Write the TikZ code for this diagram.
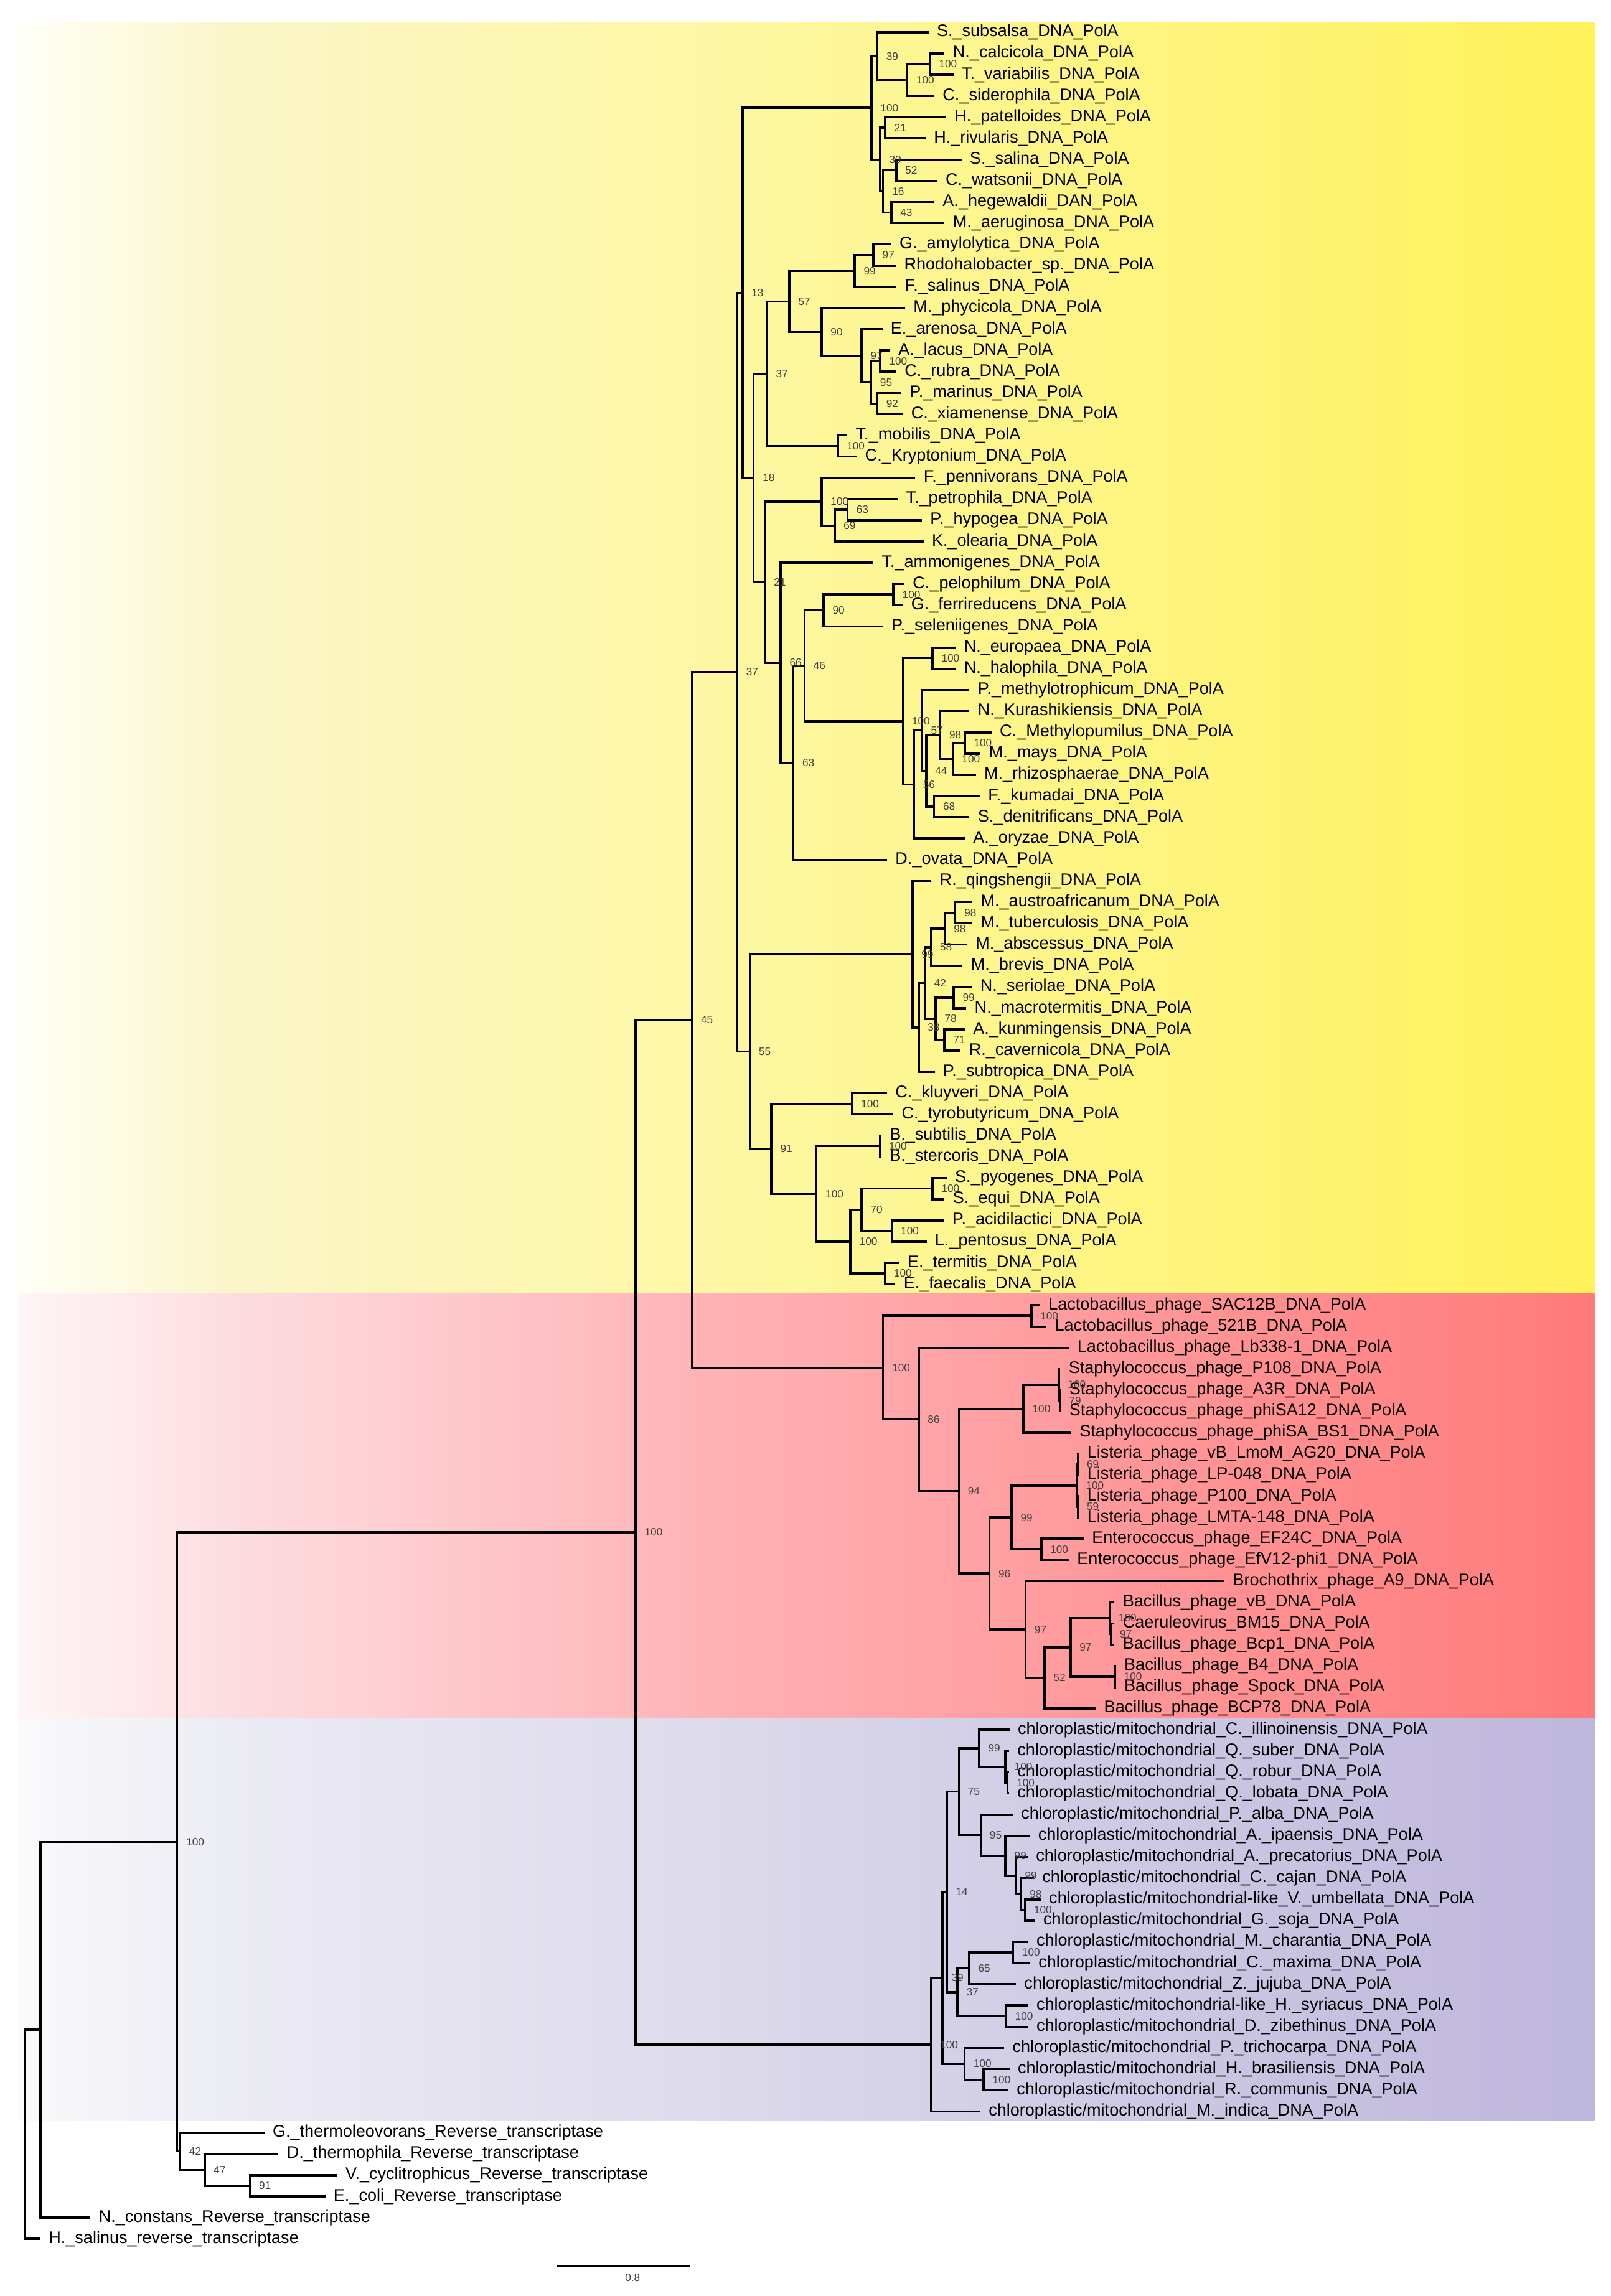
\documentclass[tikz,border=0pt]{standalone}
\usepackage{fontspec}
\setmainfont{Liberation Sans}
\usetikzlibrary{calc}

\definecolor{yelA}{HTML}{FFFFF7}
\definecolor{yelB}{HTML}{FBF6C8}
\definecolor{yelC}{HTML}{FDF7A4}
\definecolor{yelD}{HTML}{FFF25A}
\definecolor{redA}{HTML}{FFF6F7}
\definecolor{redB}{HTML}{FDDCE0}
\definecolor{redC}{HTML}{FFB2B6}
\definecolor{redD}{HTML}{FF7A7A}
\definecolor{bluA}{HTML}{FAFAFC}
\definecolor{bluB}{HTML}{EBEBF4}
\definecolor{bluC}{HTML}{DDDAEB}
\definecolor{bluD}{HTML}{BEB6DC}

\pgfdeclarehorizontalshading{yelband}{100bp}{color(0bp)=(yelA); color(25bp)=(yelA); color(32bp)=(yelB); color(47bp)=(yelC); color(75bp)=(yelD); color(100bp)=(yelD)}
\pgfdeclarehorizontalshading{redband}{100bp}{color(0bp)=(redA); color(25bp)=(redA); color(32bp)=(redB); color(47bp)=(redC); color(75bp)=(redD); color(100bp)=(redD)}
\pgfdeclarehorizontalshading{bluband}{100bp}{color(0bp)=(bluA); color(25bp)=(bluA); color(32bp)=(bluB); color(47bp)=(bluC); color(75bp)=(bluD); color(100bp)=(bluD)}

\newcommand\pola{\_DNA\_PolA}
\newcommand\revtr{\_Reverse\_transcriptase}
\newcommand\cpm{chloroplastic/mitochondrial}
% name, x, upper child, lower child, support
\newcommand\clade[5]{%
  \path ($(#3)!.5!(#4)$) coordinate (m#1);
  \coordinate (#1) at (m#1 -| #2,0);
  \draw[branch] (#3) -| (#1) |- (#4);
  \node[boot] (s#1) at (#1) {#5};
}

\begin{document}
\begin{tikzpicture}[x=1pt,y=-1pt,
  branch/.style={line width=1.5pt},
  leaf/.style={anchor=west,inner xsep=5.5pt,inner ysep=1pt,font=\fontsize{11.5}{12}\selectfont},
  boot/.style={anchor=west,inner sep=0pt,xshift=6pt,font=\fontsize{7.3}{8}\selectfont,text=black!75}]

\useasboundingbox (0,0) rectangle (1100,1568);

% clade bands
\shade[shading=yelband] (12.6,14.9) rectangle (1088.8,883.5);
\shade[shading=redband] (12.6,883.5) rectangle (1088.8,1173.5);
\shade[shading=bluband] (12.6,1173.5) rectangle (1088.8,1448.4);

% leaves, one per row
\foreach \x/\t [count=\i] in {
  634/S.\_subsalsa\pola, 645/N.\_calcicola\pola, 651/T.\_variabilis\pola,
  638/C.\_siderophila\pola, 646/H.\_patelloides\pola, 632/H.\_rivularis\pola,
  656.5/S.\_salina\pola, 640/C.\_watsonii\pola, 638/A.\_hegewaldii\_DAN\_PolA,
  645/M.\_aeruginosa\pola, 608.5/G.\_amylolytica\pola, 611.7/Rhodohalobacter\_sp.\pola,
  612.2/F.\_salinus\pola, 618/M.\_phycicola\pola, 602.5/E.\_arenosa\pola,
  607.8/A.\_lacus\pola, 612/C.\_rubra\pola, 615.4/P.\_marinus\pola,
  616.5/C.\_xiamenense\pola, 578.6/T.\_mobilis\pola, 585/C.\_Kryptonium\pola,
  625/F.\_pennivorans\pola, 613/T.\_petrophila\pola, 629.5/P.\_hypogea\pola,
  630.6/K.\_olearia\pola, 596.4/T.\_ammonigenes\pola, 617.6/C.\_pelophilum\pola,
  616.5/G.\_ferrireducens\pola, 603/P.\_seleniigenes\pola, 652.6/N.\_europaea\pola,
  652.6/N.\_halophila\pola, 662/P.\_methylotrophicum\pola, 662/N.\_Kurashikiensis\pola,
  677/C.\_Methylopumilus\pola, 669.6/M.\_mays\pola, 666.3/M.\_rhizosphaerae\pola,
  669/F.\_kumadai\pola, 662/S.\_denitrificans\pola, 658.8/A.\_oryzae\pola,
  605.7/D.\_ovata\pola, 636/R.\_qingshengii\pola, 664/M.\_austroafricanum\pola,
  664/M.\_tuberculosis\pola, 660.5/M.\_abscessus\pola, 657.3/M.\_brevis\pola,
  663.7/N.\_seriolae\pola, 659.8/N.\_macrotermitis\pola, 658.8/A.\_kunmingensis\pola,
  656/R.\_cavernicola\pola, 638.2/P.\_subtropica\pola, 605.7/C.\_kluyveri\pola,
  610/C.\_tyrobutyricum\pola, 601.8/B.\_subtilis\pola, 601.8/B.\_stercoris\pola,
  646.4/S.\_pyogenes\pola, 645/S.\_equi\pola, 644.6/P.\_acidilactici\pola,
  632.7/L.\_pentosus\pola, 614/E.\_termitis\pola, 611.4/E.\_faecalis\pola,
  710.2/Lactobacillus\_phage\_SAC12B\pola, 714.6/Lactobacillus\_phage\_521B\pola,
  730/Lactobacillus\_phage\_Lb338-1\pola, 724/Staphylococcus\_phage\_P108\pola,
  724.5/Staphylococcus\_phage\_A3R\pola, 724.5/Staphylococcus\_phage\_phiSA12\pola,
  731.5/Staphylococcus\_phage\_phiSA\_BS1\pola, 736.8/Listeria\_phage\_vB\_LmoM\_AG20\pola,
  736.8/Listeria\_phage\_LP-048\pola, 736.8/Listeria\_phage\_P100\pola,
  736.8/Listeria\_phage\_LMTA-148\pola, 740/Enterococcus\_phage\_EF24C\pola,
  729.8/Enterococcus\_phage\_EfV12-phi1\pola, 836.1/Brochothrix\_phage\_A9\pola,
  761/Bacillus\_phage\_vB\pola, 761/Caeruleovirus\_BM15\pola, 761/Bacillus\_phage\_Bcp1\pola,
  762/Bacillus\_phage\_B4\pola, 762/Bacillus\_phage\_Spock\pola, 748.2/Bacillus\_phage\_BCP78\pola,
  689.3/\cpm\_C.\_illinoinensis\pola, 689/\cpm\_Q.\_suber\pola, 689/\cpm\_Q.\_robur\pola,
  689/\cpm\_Q.\_lobata\pola, 691.5/\cpm\_P.\_alba\pola, 703.2/\cpm\_A.\_ipaensis\pola,
  701.7/\cpm\_A.\_precatorius\pola, 706/\cpm\_C.\_cajan\pola,
  710.6/\cpm-like\_V.\_umbellata\pola, 706.7/\cpm\_G.\_soja\pola,
  702/\cpm\_M.\_charantia\pola, 703.4/\cpm\_C.\_maxima\pola, 693.7/\cpm\_Z.\_jujuba\pola,
  702/\cpm-like\_H.\_syriacus\pola, 702/\cpm\_D.\_zibethinus\pola,
  685.7/\cpm\_P.\_trichocarpa\pola, 689.3/\cpm\_H.\_brasiliensis\pola,
  688.5/\cpm\_R.\_communis\pola, 669.4/\cpm\_M.\_indica\pola,
  180.5/G.\_thermoleovorans\revtr, 190.2/D.\_thermophila\revtr,
  230.2/V.\_cyclitrophicus\revtr, 222.1/E.\_coli\revtr,
  61.8/N.\_constans\revtr, 27.6/H.\_salinus\_reverse\_transcriptase}
  \node[leaf] (l\i) at (\x,{22+(\i-1)*14.49}) {\t};

% cyanobacteria
\clade{cNT}{635}{l2}{l3}{100}
\clade{cNTC}{619.5}{cNT}{l4}{100}
\clade{c39}{599}{l1}{cNTC}{39}
\clade{cH}{604.5}{l5}{l6}{21}
\clade{cSC}{612}{l7}{l8}{52}
\clade{cAM}{608.6}{l9}{l10}{43}
\clade{c16}{603}{cSC}{cAM}{16}
\clade{c30}{601}{cH}{c16}{30}
\clade{cCy}{595}{c39}{c30}{100}
% bacteroidetes and others
\clade{cGR}{596.4}{l11}{l12}{97}
\clade{c99a}{583.6}{cGR}{l13}{99}
\clade{cAC}{601}{l16}{l17}{100}
\clade{cPC}{599}{l18}{l19}{92}
\clade{c95}{594.8}{cAC}{cPC}{95}
\clade{c97a}{588.3}{l15}{c95}{97}
\clade{c90a}{561}{l14}{c97a}{90}
\clade{c57}{539}{c99a}{c90a}{57}
\clade{cTC}{572}{l20}{l21}{100}
\clade{c37a}{523.7}{c57}{cTC}{37}
\clade{cTP}{578.6}{l23}{l24}{63}
\clade{c69}{569.9}{cTP}{l25}{69}
\clade{c100c}{561}{l22}{c69}{100}
\clade{cCG}{610}{l27}{l28}{100}
\clade{c90b}{562.3}{cCG}{l29}{90}
\clade{cNN}{636.7}{l30}{l31}{100}
\clade{cMM}{658.8}{l34}{l35}{100}
\clade{c100e}{650.7}{cMM}{l36}{100}
\clade{c98a}{642}{l33}{c100e}{98}
\clade{cFS}{637.8}{l37}{l38}{68}
\clade{c44}{632.4}{c98a}{cFS}{44}
\clade{c57b}{629.5}{l32}{c44}{57}
\clade{c56}{624.1}{c57b}{l39}{56}
\clade{c100d}{616.5}{cNN}{c56}{100}
\clade{c46}{549.3}{c90b}{c100d}{46}
\clade{c63}{541.7}{c46}{l40}{63}
\clade{c66}{533}{l26}{c63}{66}
\clade{c21}{522.3}{c100c}{c66}{21}
\clade{c18}{514.6}{c37a}{c21}{18}
\clade{c13}{507}{cCy}{c18}{13}
% actinobacteria and firmicutes
\clade{cMA}{652.3}{l42}{l43}{98}
\clade{c98b}{645.1}{cMA}{l44}{98}
\clade{c58}{635.6}{c98b}{l45}{58}
\clade{cNS}{651.2}{l46}{l47}{99}
\clade{cAR}{644.7}{l48}{l49}{71}
\clade{c78}{638.8}{cNS}{cAR}{78}
\clade{c42}{631.7}{c58}{c78}{42}
\clade{c38}{627.3}{c42}{l50}{38}
\clade{c99b}{623}{l41}{c38}{99}
\clade{cCK}{581.8}{l51}{l52}{100}
\clade{cBB}{600.8}{l53}{l54}{100}
\clade{cSS}{636.7}{l55}{l56}{100}
\clade{cPL}{609}{l57}{l58}{100}
\clade{c70}{588.3}{cSS}{cPL}{70}
\clade{cEE}{604.2}{l59}{l60}{100}
\clade{c100h}{580.7}{c70}{cEE}{100}
\clade{c100g}{557.5}{cBB}{c100h}{100}
\clade{c91}{526.6}{cCK}{c100g}{91}
\clade{c55}{512}{c99b}{c91}{55}
\clade{c37b}{503.4}{c13}{c55}{37}
% phages
\clade{cLL}{704.2}{l61}{l62}{100}
\clade{cSt2}{723.8}{l65}{l66}{79}
\clade{cSt1}{723}{l64}{cSt2}{100}
\clade{c100s}{698.8}{cSt1}{l67}{100}
\clade{cLi1}{736}{l68}{l69}{69}
\clade{cLi2}{736}{l70}{l71}{59}
\clade{cLi}{735.3}{cLi1}{cLi2}{100}
\clade{cEn}{711}{l72}{l73}{100}
\clade{c99r}{690.7}{cLi}{cEn}{99}
\clade{cBa2}{758.5}{l76}{l77}{97}
\clade{cBa1}{757.6}{l75}{cBa2}{100}
\clade{cBS}{761.3}{l78}{l79}{100}
\clade{c97b}{731}{cBa1}{cBS}{97}
\clade{c52}{713.2}{c97b}{l80}{52}
\clade{c97c}{700.2}{l74}{c52}{97}
\clade{c96}{675.6}{c99r}{c97c}{96}
\clade{c94}{654.7}{c100s}{c96}{94}
\clade{c86}{627.3}{l63}{c94}{86}
\clade{c100r}{603}{cLL}{c86}{100}
\clade{c45}{472.4}{c37b}{c100r}{45}
% plants
\clade{cQ2}{688}{l83}{l84}{100}
\clade{cQ}{686.5}{l82}{cQ2}{100}
\clade{c99y}{668.6}{l81}{cQ}{99}
\clade{cVG}{699.8}{l89}{l90}{100}
\clade{c98d}{697}{l88}{cVG}{98}
\clade{c99z}{693.7}{l87}{c98d}{99}
\clade{c99x}{686.5}{l86}{c99z}{99}
\clade{c95b}{669.6}{l85}{c99x}{95}
\clade{c75}{654.7}{c99y}{c95b}{75}
\clade{cMC}{691.7}{l91}{l92}{100}
\clade{c65}{661.8}{cMC}{l93}{65}
\clade{cHD}{687}{l94}{l95}{100}
\clade{c37c}{653.8}{c65}{cHD}{37}
\clade{c14}{646.5}{c75}{c37c}{14}
\clade{cHR}{671.6}{l97}{l98}{100}
\clade{c100p}{658.6}{l96}{cHR}{100}
\clade{c39b}{643.5}{c14}{c100p}{39}
\clade{cBl}{635.7}{c39b}{l99}{100}
\clade{c100m}{434}{c45}{cBl}{100}
% reverse transcriptases
\clade{cVE}{170.7}{l102}{l103}{91}
\clade{c47}{139.8}{l101}{cVE}{47}
\clade{c42o}{123}{l100}{c47}{42}
\clade{c100o}{121}{c100m}{c42o}{100}
\clade{cNc}{27.6}{c100o}{l104}{}
\clade{croot}{16.9}{cNc}{l105}{}

% scale bar
\coordinate (sbl) at (380.4,1547.3);
\coordinate (sbr) at (471.5,1547.3);
\draw[branch] (sbl) -- (sbr);
\node[boot,anchor=center,xshift=0pt] (sbt) at ($(sbl)!.5!(sbr)+(0,8)$) {0.8};
\end{tikzpicture}
\end{document}
